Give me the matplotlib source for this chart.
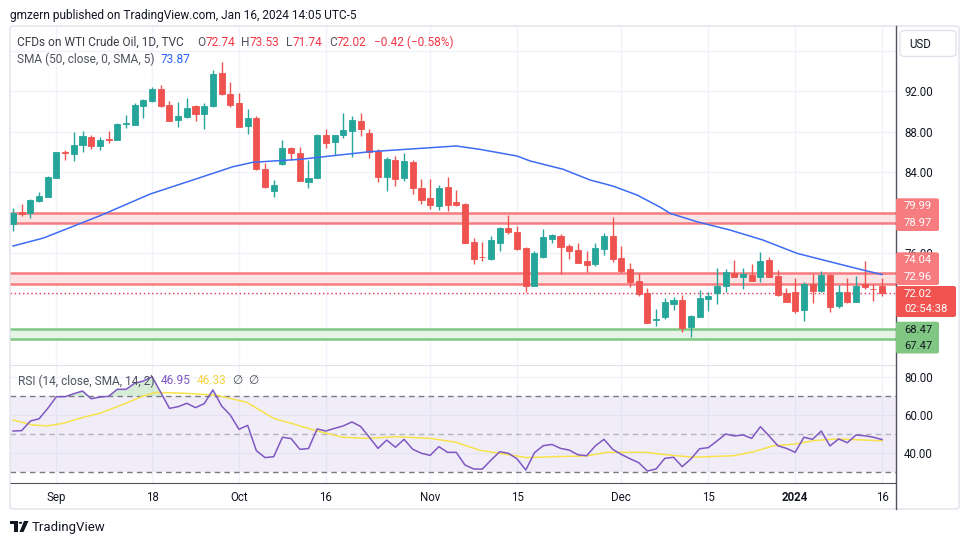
import numpy as np
import matplotlib.pyplot as plt
from matplotlib.patches import FancyBboxPatch, Polygon, Circle
from matplotlib.lines import Line2D

# ---------------------------
# data (WTI daily candles, late Aug 2023 - Jan 16 2024)
# ---------------------------
opens = [78.86, 80.05, 79.93, 81.17, 81.56, 83.44, 85.95, 85.80, 86.64, 87.43,
         86.60, 87.25, 87.16, 88.70, 88.64, 90.55, 91.00, 92.17, 90.62, 89.14,
         89.46, 90.52, 89.73, 90.52, 93.78, 91.74, 90.85, 88.57, 89.36, 84.30,
         82.15, 84.76, 86.37, 85.90, 83.05, 83.38, 87.65, 87.00, 87.65, 88.08,
         89.04, 87.82, 86.07, 83.54, 85.18, 83.44, 84.99, 82.42, 81.43, 80.64,
         82.49, 81.04, 80.84, 77.09, 75.65, 75.41, 77.02, 78.47, 78.07, 76.50,
         72.77, 75.64, 77.42, 77.68, 76.72, 76.30, 75.21, 74.91, 76.43, 77.68,
         75.50, 74.42, 73.23, 72.02, 69.35, 69.71, 71.00, 71.36, 68.72, 69.71,
         71.50, 72.08, 72.77, 74.02, 73.66, 73.83, 73.66, 75.31, 73.73, 72.02,
         72.12, 70.37, 72.91, 72.28, 73.83, 70.80, 72.12, 71.20, 72.91, 72.44,
         72.74]
highs = [80.44, 80.84, 81.33, 82.00, 83.63, 86.00, 86.17, 87.98, 88.08, 87.70,
         87.50, 88.05, 88.80, 89.60, 90.80, 91.24, 92.40, 92.59, 91.00, 90.90,
         91.28, 90.62, 90.80, 94.07, 94.90, 92.90, 91.77, 90.20, 89.50, 84.86,
         83.20, 87.16, 86.50, 86.50, 85.20, 87.80, 88.20, 87.65, 89.80, 89.53,
         89.80, 88.22, 86.24, 85.51, 85.58, 85.85, 85.19, 83.28, 83.34, 82.72,
         83.47, 82.22, 80.97, 77.48, 77.09, 77.68, 78.57, 79.75, 78.67, 76.62,
         76.20, 78.37, 77.88, 77.85, 76.89, 76.96, 76.20, 76.96, 77.94, 79.58,
         76.69, 74.98, 74.00, 72.51, 70.47, 71.58, 71.68, 71.85, 69.85, 72.35,
         72.18, 74.49, 74.45, 75.31, 74.49, 74.91, 76.10, 75.57, 74.32, 72.51,
         73.50, 73.14, 73.93, 74.22, 73.93, 72.84, 73.50, 73.73, 75.21, 72.91,
         73.53]
lows = [78.17, 79.65, 79.46, 81.00, 81.50, 83.40, 85.20, 85.12, 86.00, 86.30,
        86.20, 86.90, 87.16, 88.35, 88.64, 89.30, 90.94, 90.40, 89.07, 88.47,
        89.37, 89.07, 88.25, 90.45, 91.60, 90.45, 88.47, 87.80, 84.20, 82.40,
        81.56, 84.70, 85.20, 83.14, 82.40, 83.38, 86.40, 85.70, 87.33, 85.51,
        87.56, 85.35, 83.04, 82.15, 82.62, 83.14, 81.83, 80.84, 80.35, 80.25,
        80.18, 80.64, 77.02, 74.91, 75.21, 75.34, 76.23, 77.88, 76.30, 72.18,
        72.77, 75.54, 77.02, 73.90, 75.38, 75.05, 74.16, 74.75, 75.77, 75.14,
        74.00, 72.68, 71.75, 69.12, 68.82, 69.48, 70.37, 68.23, 67.74, 69.65,
        70.30, 70.96, 72.18, 73.66, 72.44, 73.27, 73.17, 73.66, 71.75, 71.20,
        70.05, 69.31, 71.10, 72.18, 70.22, 70.54, 71.04, 71.20, 72.41, 71.30,
        71.74]
closes = [79.95, 79.85, 81.23, 81.66, 83.54, 85.98, 85.90, 86.64, 87.56, 86.60,
          87.16, 87.20, 88.74, 88.87, 90.62, 91.10, 92.20, 90.52, 89.07, 89.53,
          90.30, 89.73, 90.52, 93.68, 91.74, 90.62, 88.47, 89.30, 84.30, 82.49,
          82.70, 86.37, 85.85, 83.14, 83.44, 87.65, 86.90, 87.65, 88.15, 89.14,
          88.22, 86.01, 83.54, 85.25, 83.31, 85.09, 82.45, 81.23, 80.74, 82.39,
          80.74, 80.74, 77.02, 75.44, 75.60, 77.28, 78.44, 78.11, 76.43, 72.77,
          75.97, 77.58, 77.78, 76.62, 76.23, 75.05, 74.85, 76.46, 77.68, 75.44,
          74.25, 73.17, 71.92, 69.12, 69.51, 71.16, 71.36, 68.62, 69.78, 71.56,
          71.74, 72.74, 74.12, 73.66, 73.93, 73.27, 75.21, 73.66, 71.85, 71.20,
          70.30, 72.91, 72.28, 73.83, 70.70, 72.12, 71.20, 72.74, 72.68, 72.41,
          72.02]
change = "\u22120.42 (\u22120.58%)"

# SMA(50) read at points along the blue line: (candle index, value)
sma_idx = [0, 3.5, 10, 15.8, 21.5, 25.3, 27.6, 33, 36.5, 41, 48, 51, 53.7, 58,
           59.5, 63.3, 66.4, 69, 71.8, 74.5, 75.6, 78.7, 82.5, 86.3, 90.2, 94,
           97.8, 100]
sma_val = [76.69, 77.48, 79.68, 81.83, 83.44, 84.52, 84.96, 85.25, 85.58, 86.00,
           86.40, 86.57, 86.24, 85.58, 85.09, 84.27, 83.21, 82.62, 81.73, 80.51,
           79.92, 79.09, 78.27, 77.28, 75.97, 75.14, 74.32, 73.87]

rsi = [51.5, 51.7, 56.8, 58.0, 63.5, 69.7, 69.7, 71.3, 72.7, 68.6,
       69.5, 69.9, 73.6, 73.6, 76.8, 78.0, 80.3, 72.0, 63.5, 64.4,
       66.2, 63.9, 66.0, 73.3, 64.8, 60.0, 52.4, 54.5, 41.1, 37.4,
       37.9, 48.2, 47.5, 41.8, 42.2, 52.6, 51.5, 52.9, 54.2, 56.3,
       53.9, 48.2, 42.3, 46.7, 42.9, 47.1, 41.8, 39.7, 38.6, 43.2,
       40.2, 40.2, 33.5, 31.4, 31.3, 36.1, 40.5, 39.7, 36.7, 30.8,
       40.0, 43.7, 44.4, 42.3, 41.4, 38.9, 38.4, 43.6, 47.1, 41.8,
       39.1, 36.8, 34.7, 30.3, 31.4, 37.0, 37.6, 32.6, 36.7, 42.1,
       42.7, 46.2, 49.9, 48.9, 49.4, 47.6, 53.8, 48.9, 43.7, 42.3,
       40.2, 48.2, 47.1, 51.5, 43.6, 47.3, 45.3, 49.4, 49.0, 48.2,
       46.95]

# RSI-based SMA(14), read at points along the yellow line
rsi_sma_idx = [0, 2.3, 3.9, 5.8, 8.1, 10, 12.7, 15, 16.5, 19.6, 23.4, 26.9, 30,
               32.3, 34.6, 38, 40.7, 44.2, 48, 51, 53.7, 56.8, 59.1, 62.2, 66,
               68.3, 72.9, 75.2, 78.3, 82.9, 85.2, 87.5, 90, 92.1, 94.8, 100]
rsi_sma_val = [57.3, 54.7, 54.2, 55.6, 58.8, 60.9, 65.7, 70.1, 72.0, 71.5, 70.5,
               66.7, 58.2, 55.2, 52.0, 48.2, 47.6, 48.5, 47.6, 45.5, 41.3, 39.1,
               37.4, 37.9, 38.3, 40.2, 40.2, 38.9, 37.6, 38.4, 40.5, 43.7, 44.6,
               46.4, 47.3, 46.33]

tick_idx = [5, 16, 26, 36, 48, 58, 70, 80, 90, 100]
tick_labels = ["Sep", "18", "Oct", "16", "Nov", "15", "Dec", "15", "2024", "16"]

price_ticks = [68, 72, 76, 80, 84, 88, 92, 96]
price_tick_shown = [76, 84, 88, 92]   # the rest sit under the label boxes

red_zone_top = (78.97, 79.99)
red_zone_mid = (72.96, 74.04)
green_zone = (67.47, 68.47)
last_close = 72.02
countdown = "02:54:38"

# ---------------------------
# figure layout (pixel based)
# ---------------------------
W, H = 970, 545
plt.rcParams['font.family'] = ['Roboto', 'DejaVu Sans']

UP, DOWN = '#26A69A', '#EF5350'
TXT = '#131722'
GRID = '#F0F3FA'
RED = '#F23645'
GRAY = '#50535E'


def rect(l, t, r, b):
    return [l / W, 1 - b / H, (r - l) / W, (b - t) / H]


def fx(x):
    return x / W


def fy(y):
    return 1 - y / H


fig = plt.figure(figsize=(W / 100, H / 100), dpi=100)
fig.patch.set_facecolor('white')

ax = fig.add_axes(rect(10, 26, 896, 365))
rs = fig.add_axes(rect(10, 365, 896, 482.7), sharex=ax)

n = len(closes)
idx = np.arange(n)
o, h, l, c = map(np.array, (opens, highs, lows, closes))
cols = np.where(c >= o, UP, DOWN)

# zones
for (lo, hi), col, fill in [(red_zone_top, '#F77C80', '#FCE3E4'),
                            (red_zone_mid, '#F77C80', '#FCE3E4'),
                            (green_zone, '#81C784', '#E6F4E7')]:
    ax.axhspan(lo, hi, color=fill, zorder=1, lw=0)
    ax.axhline(lo, color=col, lw=1.8, zorder=1.5)
    ax.axhline(hi, color=col, lw=1.8, zorder=1.5)

# candles
ax.vlines(idx, l, h, colors=cols, lw=1, zorder=3)
ax.bar(idx, np.abs(c - o), bottom=np.minimum(o, c), width=0.7, color=cols,
       edgecolor=cols, lw=0.6, zorder=4)

# SMA 50
ax.plot(sma_idx, sma_val, color='#3D6CF5', lw=1.1, zorder=5)

# last price dotted line
ax.axhline(last_close, color=RED, lw=1, ls=(0, (1, 2)), zorder=2)

ax.set_xlim(-0.345, 101.6)
ax.set_ylim(64.94, 98.42)
ax.set_yticks(price_ticks)
ax.set_yticklabels([f"{v:.2f}" if v in price_tick_shown else "" for v in price_ticks])
ax.set_xticks(tick_idx)
ax.grid(True, color=GRID, lw=1, zorder=0)
ax.set_axisbelow(True)
ax.yaxis.set_ticks_position('right')
ax.tick_params(axis='y', length=0, pad=5.8, labelsize=8.3, labelcolor=TXT)
ax.tick_params(axis='x', length=0, labelbottom=False)
for s in ax.spines.values():
    s.set_visible(False)

# ---------------------------
# RSI panel
# ---------------------------
r = np.array(rsi)
rs.axhspan(30, 70, color='#7E57C2', alpha=0.1, lw=0, zorder=1)
rs.axhline(70, color='#787B86', lw=1, ls=(0, (4, 3)), zorder=2)
rs.axhline(30, color='#787B86', lw=1, ls=(0, (4, 3)), zorder=2)
rs.axhline(50, color='#787B86', lw=1, ls=(0, (4, 3)), alpha=0.5, zorder=2)
rs.fill_between(idx, r, 70, where=r > 70, interpolate=True, color='#4CAF50',
                alpha=0.22, lw=0, zorder=2)
rs.fill_between(idx, r, 30, where=r < 30, interpolate=True, color=RED,
                alpha=0.22, lw=0, zorder=2)
rs.plot(rsi_sma_idx, rsi_sma_val, color='#F7E24B', lw=1.1, zorder=3)
rs.plot(idx, r, color='#7E57C2', lw=1.1, zorder=4)

rs.set_ylim(24.1, 86.5)
rs.set_yticks([40, 60, 80])
rs.grid(True, color=GRID, lw=1, zorder=0)
rs.set_axisbelow(True)
rs.yaxis.set_ticks_position('right')
rs.tick_params(axis='y', length=0, pad=5.8, labelsize=8.3, labelcolor=TXT)
rs.yaxis.set_major_formatter(plt.FuncFormatter(lambda v, p: f"{v:.2f}"))
rs.set_xticks(tick_idx)
rs.set_xticklabels(tick_labels)
rs.tick_params(axis='x', length=0, pad=6, labelsize=8.3, labelcolor=TXT)
rs.get_xticklabels()[tick_labels.index("2024")].set_fontweight('bold')
for s in rs.spines.values():
    s.set_visible(False)
rs.spines['top'].set_visible(True)
rs.spines['top'].set_color('#E0E3EB')
rs.spines['bottom'].set_visible(True)
rs.spines['bottom'].set_color(GRAY)

# ---------------------------
# frame, price scale boxes
# ---------------------------
fig.patches.append(FancyBboxPatch((fx(10), fy(509)), fx(949), 483 / H,
                                  boxstyle='round,pad=0,rounding_size=0.004',
                                  transform=fig.transFigure, fill=False,
                                  ec='#E0E3EB', lw=1, zorder=1))
fig.lines.append(Line2D([fx(896), fx(896)], [fy(26), fy(509)],
                        transform=fig.transFigure, color=GRAY, lw=1))

# USD button
fig.patches.append(FancyBboxPatch((fx(900), fy(56.5)), 56 / W, 26 / H,
                                  boxstyle='round,pad=0,rounding_size=0.006',
                                  transform=fig.transFigure, fc='white',
                                  ec='#E0E3EB', lw=1, zorder=2))
fig.text(fx(909), fy(44), "USD", fontsize=8.3, color=TXT, va='center', zorder=4)


def price_box(top, bottom, right, fc, lines, tc):
    fig.patches.append(FancyBboxPatch((fx(896), fy(bottom)), (right - 896) / W,
                                      (bottom - top) / H,
                                      boxstyle='round,pad=0,rounding_size=0.003',
                                      transform=fig.transFigure, fc=fc, ec='none',
                                      zorder=2))
    step = (bottom - top) / len(lines)
    for k, t in enumerate(lines):
        fig.text(fx(904), fy(top + step * (k + 0.5)), t, fontsize=8.1,
                 color=tc, va='center', zorder=4)


price_box(198.3, 231, 939, '#F77C80', [f"{red_zone_top[1]:.2f}", f"{red_zone_top[0]:.2f}"], 'white')
price_box(252.3, 285, 939, '#F77C80', [f"{red_zone_mid[1]:.2f}", f"{red_zone_mid[0]:.2f}"], 'white')
price_box(286, 317, 956, '#F05350', [f"{last_close:.2f}", countdown], 'white')
price_box(321.7, 353.5, 939, '#81C784', [f"{green_zone[1]:.2f}", f"{green_zone[0]:.2f}"], TXT)

# ---------------------------
# legends / header text
# ---------------------------
fig.text(fx(10), fy(15), "gmzern published on TradingView.com, Jan 16, 2024 14:05 UTC-5",
         fontsize=8.6, color=TXT, va='center')

renderer = fig.canvas.get_renderer()


def seq(x, y, parts, size=8.6):
    # draw colored text pieces one after another, return the end x
    for txt, col in parts:
        if txt == " ":
            x += 6
            continue
        t = fig.text(fx(x), fy(y), txt, fontsize=size, color=col, va='center')
        x += t.get_window_extent(renderer).width
    return x


seq(17, 42, [("CFDs on WTI Crude Oil, 1D, TVC", '#3B3E47')])
seq(197, 42, [("O", GRAY), (f"{opens[-1]:.2f}", RED)])
seq(241, 42, [("H", GRAY), (f"{highs[-1]:.2f}", RED)])
seq(286, 42, [("L", GRAY), (f"{lows[-1]:.2f}", RED)])
end_c = seq(329, 42, [("C", GRAY), (f"{closes[-1]:.2f}", RED)])
seq(max(366, end_c + 7), 42, [(change, RED)])
seq(17, 59, [("SMA (50, close, 0, SMA, 5)", GRAY), (" ", None), (f"{sma_val[-1]:.2f}", '#2962FF')])
seq(18, 381, [("RSI (14, close, SMA, 14, 2)", GRAY), (" ", None), (f"{rsi[-1]:.2f}", '#7E57C2'),
              (" ", None), (f"{rsi_sma_val[-1]:.2f}", '#F2D43D'), (" ", None), ("\u2205", GRAY),
              (" ", None), ("\u2205", GRAY)])

# footer logo
fig.patches.append(Polygon([(fx(10), fy(521)), (fx(18), fy(521)), (fx(18), fy(532)),
                            (fx(14.5), fy(532)), (fx(14.5), fy(524)), (fx(10), fy(524))],
                           closed=True, transform=fig.transFigure, fc=TXT, ec='none'))
fig.patches.append(Circle((fx(20.5), fy(522.8)), 1.8 / W, transform=fig.transFigure,
                          fc=TXT, ec='none'))
fig.patches.append(Polygon([(fx(24), fy(521)), (fx(28.5), fy(521)), (fx(23.5), fy(532)),
                            (fx(19.5), fy(532))], closed=True, transform=fig.transFigure,
                           fc=TXT, ec='none'))
fig.text(fx(32), fy(527), "TradingView", fontsize=9.5, color=TXT, va='center')

fig.savefig("out.png", dpi=100)
